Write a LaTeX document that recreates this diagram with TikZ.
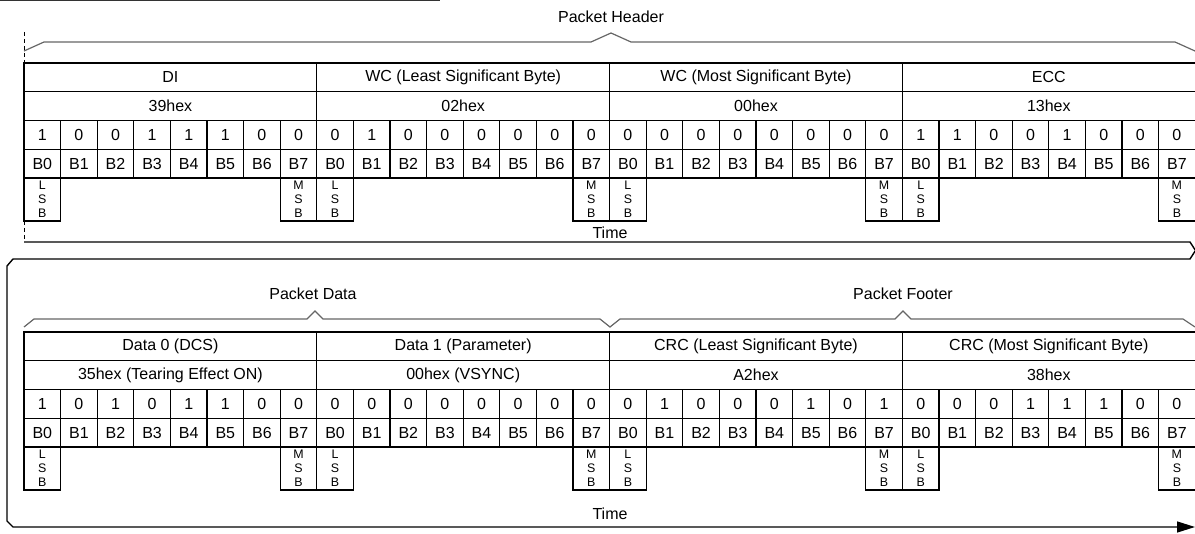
\documentclass[tikz,border=0pt]{standalone}
\usepackage{fontspec}
\setmainfont{Liberation Sans}
\usetikzlibrary{arrows.meta}
\tikzset{
 field/.style={draw,line width=.6pt,minimum width=146.4pt,minimum height=14.375pt,inner sep=0,outer sep=0},
 bitcell/.style={draw,line width=.6pt,minimum width=18.3pt,minimum height=14.375pt,inner sep=0,outer sep=0},
 sigbox/.style={draw,line width=.6pt,minimum width=18.3pt,minimum height=21.5pt,inner sep=0,outer sep=0,align=center,font=\fontsize{6.2}{7.1}\selectfont},
 brace/.style={draw=black!60,line width=.6pt},
 marker/.style={dash pattern=on 2pt off 1.5pt,line width=.5pt},
 timeline/.style={line width=.7pt},
 headtext/.style={inner sep=0}
}

\begin{document}
\begin{tikzpicture}[x=.5pt,y=-.5pt,font=\fontsize{8}{9.6}\selectfont]
\useasboundingbox (0,0) rectangle (1195,534);
\draw[line width=.6pt,black!80] (0,.6) -- (440,.6);
% packet header
\node[headtext] (head) at (611,17) {Packet Header};
\draw[brace] (24,51) -- (44,42) -- (591,42) -- (611,33) -- (631,42) -- (1175,42) -- (1195,51);
\draw[marker] (24,32) -- (24,63);
\foreach \f/\v/\bits [count=\k from 0] in {DI/39hex/{1,0,0,1,1,1,0,0},
  WC (Least Significant Byte)/02hex/{0,1,0,0,0,0,0,0},
  WC (Most Significant Byte)/00hex/{0,0,0,0,0,0,0,0},
  ECC/13hex/{1,1,0,0,1,0,0,0}}{
  \node[field] (hf\k) at ({170.4+292.8*\k},77.375) {\f};
  \node[field] (hv\k) at ({170.4+292.8*\k},106.125) {\v};
  \foreach \bit [count=\i from 0] in \bits{
    \node[bitcell] (hbit\k-\i) at ({42.3+36.6*(8*\k+\i)},134.875) {\bit};
    \node[bitcell] (hb\k-\i) at ({42.3+36.6*(8*\k+\i)},163.625) {B\i};
  }
  \node[sigbox,anchor=north] (hl\k) at (hb\k-0.south) {L\\S\\B};
  \node[sigbox,anchor=north] (hm\k) at (hb\k-7.south) {M\\S\\B};
}
\draw[marker] (hl0.south west) -- (24,242);
\node[headtext] (time1) at (610,233) {Time};
% time line running on to the second row
\draw[timeline,-{Triangle[length=9pt,width=5.5pt]}] (24,242) -- (1190,242) -- (1195.5,250.5) -- (1190,259)
  -- (13,259) -- (7,266) -- (7,521) -- (13,527) -- (1195,527);
% packet data and footer
\node[headtext] (data) at (313,294) {Packet Data};
\node[headtext] (foot) at (903,294) {Packet Footer};
\draw[brace] (24,327) -- (34,319) -- (307,319) -- (315,311) -- (323,319) -- (600,319) -- (610,327)
  -- (620,319) -- (895,319) -- (903,311) -- (911,319) -- (1183,319) -- (1195,327);
\foreach \f/\v/\bits [count=\k from 0] in {Data 0 (DCS)/35hex (Tearing Effect ON)/{1,0,1,0,1,1,0,0},
  Data 1 (Parameter)/00hex (VSYNC)/{0,0,0,0,0,0,0,0},
  CRC (Least Significant Byte)/A2hex/{0,1,0,0,0,1,0,1},
  CRC (Most Significant Byte)/38hex/{0,0,0,1,1,1,0,0}}{
  \node[field] (df\k) at ({170.4+292.8*\k},346.375) {\f};
  \node[field] (dv\k) at ({170.4+292.8*\k},375.125) {\v};
  \foreach \bit [count=\i from 0] in \bits{
    \node[bitcell] (dbit\k-\i) at ({42.3+36.6*(8*\k+\i)},403.875) {\bit};
    \node[bitcell] (db\k-\i) at ({42.3+36.6*(8*\k+\i)},432.625) {B\i};
  }
  \node[sigbox,anchor=north] (dl\k) at (db\k-0.south) {L\\S\\B};
  \node[sigbox,anchor=north] (dm\k) at (db\k-7.south) {M\\S\\B};
}
\node[headtext] (time2) at (610,514) {Time};
\end{tikzpicture}
\end{document}
